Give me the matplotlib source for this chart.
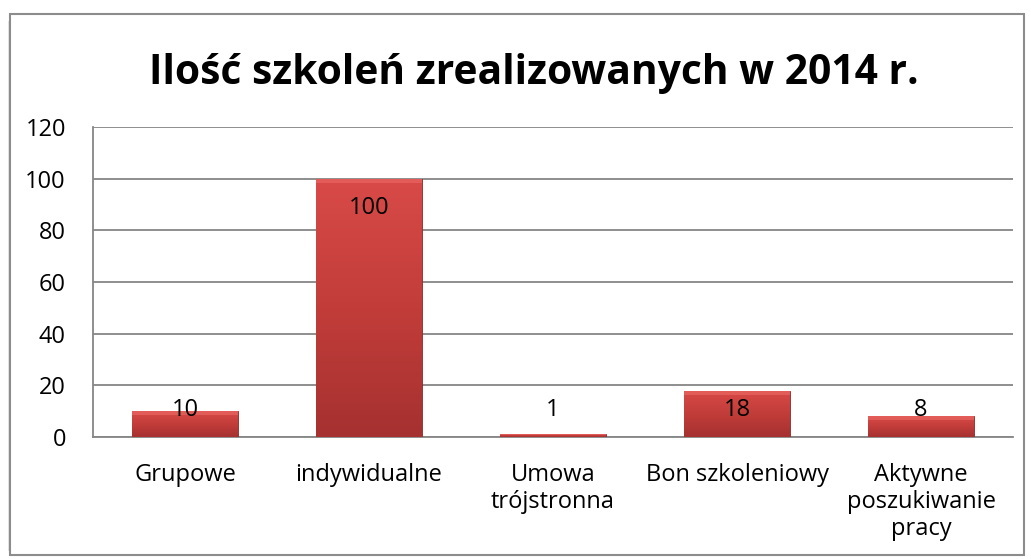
import matplotlib.pyplot as plt
import matplotlib.patches as patches
import numpy as np
from matplotlib.colors import LinearSegmentedColormap

categories = ['Grupowe', 'indywidualne', 'Umowa\ntrójstronna', 'Bon szkoleniowy',
              'Aktywne\nposzukiwanie\npracy']
values = [10, 100, 1, 18, 8]
y_ticks = [0, 20, 40, 60, 80, 100, 120]
title = 'Ilość szkoleń zrealizowanych w 2014 r.'

plt.rcParams['font.family'] = ['Open Sans', 'DejaVu Sans']

fig = plt.figure(figsize=(10.31, 5.59), dpi=100)
ax = fig.add_axes([93 / 1031, 1 - 437 / 559, 920 / 1031, 310 / 559])

# outer chart frame with a soft shadow on the left
for i, a in enumerate([0.10, 0.18, 0.28]):
    fig.add_artist(patches.Rectangle((8 / 1031 + i / 1031, 8 / 559), 1 / 1031, 530 / 559,
                                     transform=fig.transFigure, color='black', alpha=a, lw=0))
fig.add_artist(patches.Rectangle((10 / 1031, 4 / 559), 1014 / 1031, 541 / 559,
                                 transform=fig.transFigure, fill=False,
                                 edgecolor='#8c8c8c', lw=1.5))

x = np.arange(len(values))
bars = ax.bar(x, values, width=0.575, color='#c33d3a', edgecolor='#8a2a28', lw=0.6, zorder=3)

cmap = LinearSegmentedColormap.from_list('redgrad', ['#a53130', '#c23d3a', '#d84a47'])
grad = np.linspace(0, 1, 256).reshape(-1, 1)
for b in bars:
    x0, y0 = b.get_x(), b.get_y()
    w, h = b.get_width(), b.get_height()
    im = ax.imshow(grad, extent=[x0, x0 + w, y0, y0 + h], origin='lower', cmap=cmap,
                   aspect='auto', zorder=3.5)
    im.set_clip_path(b)
    # light bevel along the top
    ax.add_patch(patches.Rectangle((x0, y0 + h - min(h * 0.3, 1.6)), w, min(h * 0.3, 1.6),
                                   color='#ec6a66', alpha=0.6, lw=0, zorder=3.6))

for xi, v in zip(x, values):
    ax.text(xi, max(v - 11.4, 10.5), str(v), ha='center', va='center', fontsize=17,
            color='black', zorder=5)

ax.set_xlim(-0.5, len(values) - 0.5)
ax.set_ylim(0, 120)
ax.set_yticks(y_ticks)
ax.set_xticks(x)
ax.set_xticklabels(categories, fontsize=17, linespacing=1.16)
ax.tick_params(axis='y', labelsize=17, length=0, pad=19.5)
ax.tick_params(axis='x', length=0, pad=19)
for lab in ax.get_xticklabels():
    lab.set_verticalalignment('top')

ax.grid(axis='y', color='#868686', lw=1.3, zorder=0)
ax.set_axisbelow(True)
for s in ['top', 'right']:
    ax.spines[s].set_visible(False)
ax.spines['left'].set_color('#868686')
ax.spines['bottom'].set_color('#868686')
ax.spines['left'].set_linewidth(1.3)
ax.spines['bottom'].set_linewidth(1.3)

fig.text(534 / 1031, 1 - 73 / 559, title, ha='center', va='center', fontsize=29.3,
         fontweight='bold')

fig.savefig('out.png', dpi=100)
